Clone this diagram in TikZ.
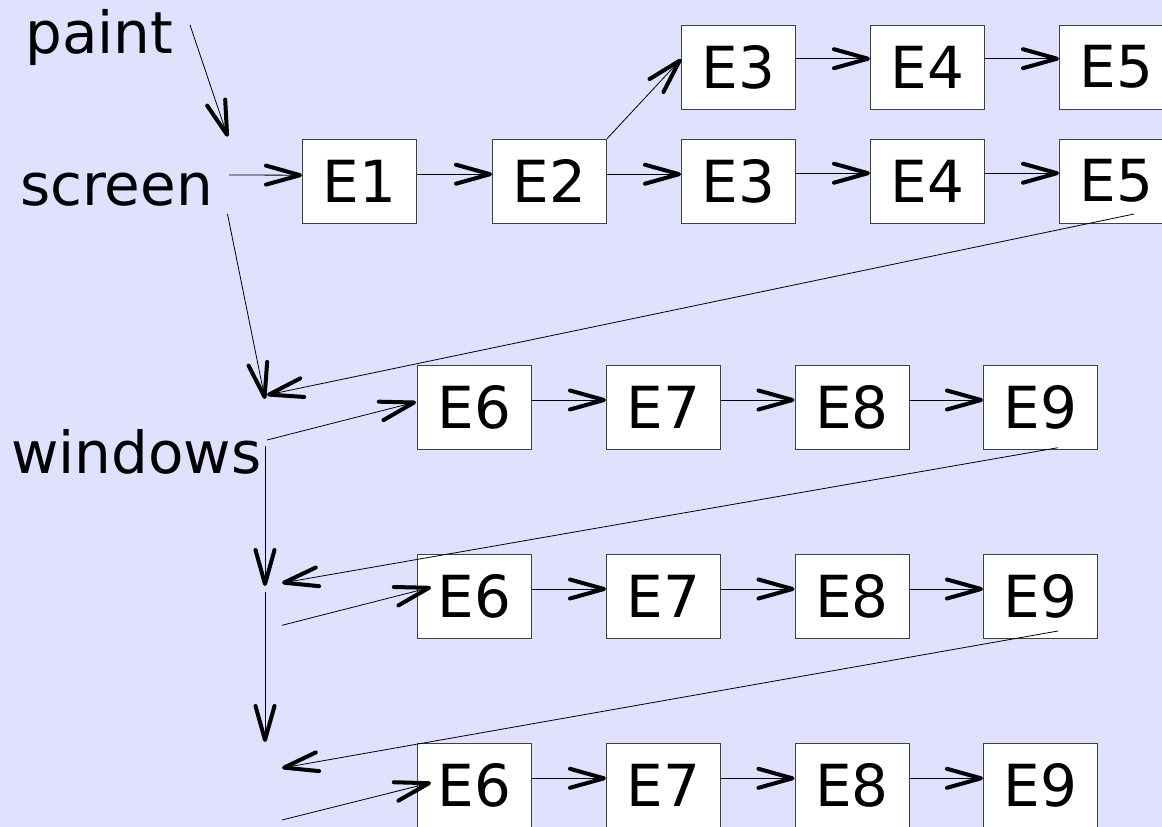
\documentclass[tikz,border=0pt]{standalone}
\usepackage{fontspec}
\setmainfont{DejaVu Sans}
\usetikzlibrary{arrows.meta}
\definecolor{bgc}{RGB}{224,224,255}
\pgfdeclarearrow{
  name = OpenVee,
  setup code = {
    \pgfarrowssettipend{0pt}
    \pgfarrowssetlineend{-4pt}
    \pgfarrowssetbackend{-38pt}
    \pgfarrowssetvisualbackend{-20pt}
  },
  drawing code = {
    \pgfsetlinewidth{4pt}
    \pgfsetroundcap
    \pgfsetroundjoin
    \pgfsetdash{}{0pt}
    \pgfpathmoveto{\pgfpoint{-36pt}{9.5pt}}
    \pgfpathlineto{\pgfpoint{-2pt}{0pt}}
    \pgfpathlineto{\pgfpoint{-36pt}{-9.5pt}}
    \pgfusepathqstroke
  },
  defaults = {}
}
\tikzset{
  box/.style={draw=black!75, line width=1pt, fill=white, minimum width=114pt, minimum height=84pt, inner sep=0pt, anchor=north west, font=\fontsize{58}{60}\selectfont},
  lbl/.style={inner sep=0pt, anchor=base west, font=\fontsize{58}{60}\selectfont},
  arr/.style={line width=0.8pt, -{OpenVee}}
}
\begin{document}
\begin{tikzpicture}[x=1pt,y=-1pt]
\fill[bgc] (0,0) rectangle (1162,827);
\useasboundingbox (0,0) rectangle (1162,827);
% labels
\node[lbl] (paint) at (25,53) {paint};
\node[lbl] (screen) at (20,205) {screen};
\node[lbl] (windows) at (11,473) {windows};
% top rows
\node[box] (E3a) at (681,24.7) {E3};
\node[box] (E4a) at (870,24.7) {E4};
\node[box] (E5a) at (1059,24.7) {E5};
\node[box] (E1) at (302,138.7) {E1};
\node[box] (E2) at (492,138.7) {E2};
\node[box] (E3b) at (681,138.7) {E3};
\node[box] (E4b) at (870,138.7) {E4};
\node[box] (E5b) at (1059,138.7) {E5};
% windows rows
\node[box] (E6a) at (417,365) {E6};
\node[box] (E7a) at (606,365) {E7};
\node[box] (E8a) at (794.5,365) {E8};
\node[box] (E9a) at (983,365) {E9};
\node[box] (E6b) at (417,554) {E6};
\node[box] (E7b) at (606,554) {E7};
\node[box] (E8b) at (794.5,554) {E8};
\node[box] (E9b) at (983,554) {E9};
\node[box] (E6c) at (417,743.3) {E6};
\node[box] (E7c) at (606,743.3) {E7};
\node[box] (E8c) at (794.5,743.3) {E8};
\node[box] (E9c) at (983,743.3) {E9};
% free coordinates
\coordinate (p0) at (190,25);
\coordinate (p1) at (227.7,136.7);
\coordinate (s0) at (229,175);
\coordinate (s1) at (227.5,214);
\coordinate (w1) at (265,399);
\coordinate (w1b) at (267,395);
\coordinate (w0) at (267,440);
\coordinate (v0) at (265,446);
\coordinate (v1) at (265,586);
\coordinate (v2) at (265,592);
\coordinate (v3) at (265,742);
\coordinate (r1) at (282,583);
\coordinate (r1s) at (282,625.3);
\coordinate (r2) at (282,768);
\coordinate (r2s) at (282,820);
\coordinate (e5s) at (1134,214);
\coordinate (e9as) at (1058,447.7);
\coordinate (e9bs) at (1058,631);
\coordinate (t6a) at (416,402);
\coordinate (t6b) at (431,587.3);
\coordinate (t6c) at (431,782.7);
% connectors
\draw[arr] (p0) -- (p1);
\draw[arr] (s0) -- ([yshift=6pt]E1.west);
\draw[arr] ([yshift=7pt]E1.east) -- ([yshift=7pt]E2.west);
\draw[arr] (E2.north east) -- ([yshift=8pt]E3a.west);
\draw[arr] ([yshift=7pt]E2.east) -- ([yshift=7pt]E3b.west);
\draw[arr] ([yshift=8.5pt]E3a.east) -- ([yshift=8.5pt]E4a.west);
\draw[arr] ([yshift=8.5pt]E4a.east) -- ([yshift=8.5pt]E5a.west);
\draw[arr] ([yshift=8pt]E3b.east) -- ([yshift=8pt]E4b.west);
\draw[arr] ([yshift=8pt]E4b.east) -- ([yshift=8pt]E5b.west);
\draw[arr] (s1) -- (w1);
\draw[arr] (e5s) -- (w1b);
\draw[arr] (w0) -- (t6a);
\draw[arr] (v0) -- (v1);
\draw[arr] (v2) -- (v3);
\draw[arr] (e9as) -- (r1);
\draw[arr] (r1s) -- (t6b);
\draw[arr] (e9bs) -- (r2);
\draw[arr] (r2s) -- (t6c);
\foreach \r in {a,b,c}{
  \draw[arr] ([yshift=7.5pt]E6\r.east) -- ([yshift=7.5pt]E7\r.west);
  \draw[arr] ([yshift=7.5pt]E7\r.east) -- ([yshift=7.5pt]E8\r.west);
  \draw[arr] ([yshift=7.5pt]E8\r.east) -- ([yshift=7.5pt]E9\r.west);
}
\end{tikzpicture}
\end{document}
